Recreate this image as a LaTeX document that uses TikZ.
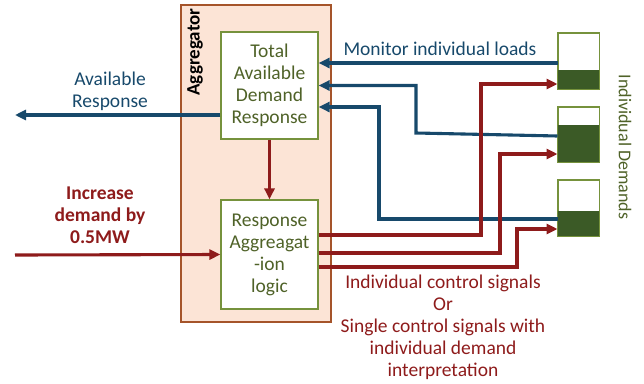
\documentclass[tikz,border=0pt]{standalone}
\usepackage{fontspec}
\setmainfont{Carlito}
\usetikzlibrary{arrows.meta,calc}
\definecolor{aggfill}{HTML}{FCE4D6}
\definecolor{aggline}{HTML}{A5542A}
\definecolor{boxline}{HTML}{76923C}
\definecolor{gtext}{HTML}{4F6228}
\definecolor{dgreen}{HTML}{3B5A26}
\definecolor{bline}{HTML}{17496B}
\definecolor{rline}{HTML}{8E1B1B}
\tikzset{
  agg/.style={draw=aggline,fill=aggfill,line width=1.2pt,minimum width=150pt,minimum height=317pt,inner sep=0pt},
  inbox/.style={draw=boxline,fill=white,line width=1.2pt,minimum width=97pt,inner sep=0pt,text=gtext,align=center,font=\fontsize{19.5}{22}\selectfont},
  dembox/.style={draw=boxline,fill=white,line width=1pt,minimum width=41pt,inner sep=0pt},
  barrow/.style={draw=bline,line width=3.1pt,-{Triangle[length=11pt,width=10pt]}},
  rarrow/.style={draw=rline,line width=3.1pt,-{Triangle[length=11pt,width=10pt]}},
  lbl/.style={align=center,font=\fontsize{19.5}{22}\selectfont,inner sep=0pt}
}
\begin{document}
\begin{tikzpicture}[x=1pt,y=-1pt]
\useasboundingbox (0,0) rectangle (644,383);
\node[agg] (agg) at (256,163.5) {};
\node[rotate=90,font=\fontsize{19}{22}\selectfont\bfseries,inner sep=0pt] (aggl) at (195,52) {Aggregator};
\node[inbox,minimum height=107pt] (tadr) at (269.5,85.5) {Total\\Available\\Demand\\Response};
\node[inbox,minimum height=109pt] (ral) at (269.5,254.5) {Response\\Aggreagat\\-ion\\logic};
% demand boxes
\node[dembox,minimum height=56pt] (d1) at (578.5,61) {};
\fill[dgreen] (d1.south west) rectangle ($(d1.south east)+(0,-20)$);
\node[dembox,minimum height=55pt] (d2) at (578.5,134.5) {};
\fill[dgreen] (d2.south west) rectangle ($(d2.south east)+(0,-38)$);
\node[dembox,minimum height=56pt] (d3) at (578.5,208) {};
\fill[dgreen] (d3.south west) rectangle ($(d3.south east)+(0,-26)$);
\draw[boxline,line width=1pt] (d1.north west) rectangle (d1.south east);
\draw[boxline,line width=1pt] (d2.north west) rectangle (d2.south east);
\draw[boxline,line width=1pt] (d3.north west) rectangle (d3.south east);
% free ends
\coordinate (outL) at (15,115);
\coordinate (inL) at (15,255);
% blue monitor lines
\draw[barrow] ([yshift=-2pt]d1.west) -- ([yshift=-2pt]d1.west -| tadr.east);
\draw[barrow] ([yshift=-1.5pt]d2.west) -- (416,133) |- (tadr.east);
\draw[barrow] ([yshift=-11pt]d3.west) -- (379,219) |- ([yshift=-21.5pt]tadr.east);
\draw[barrow] ([yshift=-29.5pt]tadr.west) -- (outL);
% red lines
\draw[rarrow] (tadr.south) -- (ral.north);
\draw[rarrow] (inL) -- (ral.west);
\draw[rarrow] ([yshift=19.5pt]ral.east) -- (481,235) |- ([yshift=-23pt]d1.west);
\draw[rarrow] ([yshift=1.5pt]ral.east) -- (500,253) |- ([yshift=-19.5pt]d2.west);
\draw[rarrow] ([yshift=-12.5pt]ral.east) -- (517,267) |- ([yshift=-21pt]d3.west);
% labels
\node[lbl,text=bline] (avl) at (110,91) {Available\\Response};
\node[lbl,text=rline,font=\fontsize{19.5}{22}\selectfont\bfseries] (incl) at (100,215) {Increase\\demand by\\0.5MW};
\node[lbl,text=bline] (monl) at (440,49) {Monitor individual loads};
\node[lbl,text=gtext,rotate=-90,font=\fontsize{18}{22}\selectfont] (indl) at (625,147) {Individual Demands};
\node[lbl,text=rline] (ctrl) at (443,327) {Individual control signals\\Or\\Single control signals with\\individual demand\\interpretation};
\end{tikzpicture}
\end{document}
